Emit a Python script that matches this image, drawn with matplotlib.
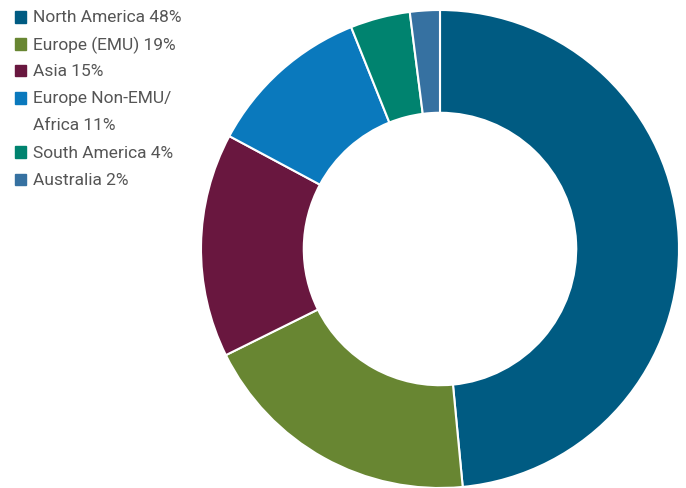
import matplotlib.pyplot as plt
from matplotlib.patches import Rectangle

plt.rcParams['font.family'] = ['Roboto', 'DejaVu Sans']

regions = ['North America', 'Europe (EMU)', 'Asia', 'Europe Non-EMU/\nAfrica',
           'South America', 'Australia']
shares = [48, 19, 15, 11, 4, 2]
colors = ['#005b82', '#688632', '#69173f', '#0a79bd', '#00836f', '#3671a1']

W, H = 686, 488
fig = plt.figure(figsize=(W / 100, H / 100), dpi=100)

# donut: centre (440, 249) px, radius 239 px
cx, cy, r = 440, 249, 239
ax = fig.add_axes([(cx - r) / W, (H - cy - r) / H, 2 * r / W, 2 * r / H])
ax.pie(shares, colors=colors, startangle=90, counterclock=False,
       wedgeprops=dict(width=0.43, edgecolor='white', linewidth=1.5))
ax.set_xlim(-1, 1)
ax.set_ylim(-1, 1)
ax.set_aspect('equal')
ax.axis('off')

# legend on the left, one text line every 27 px
y = 17
for name, val, c in zip(regions, shares, colors):
    fig.patches.append(Rectangle((15 / W, 1 - (y + 5.5) / H), 11 / W, 11 / H,
                                 transform=fig.transFigure, color=c))
    for line in f'{name} {val}%'.split('\n'):
        fig.text(33 / W, 1 - (y + 1) / H, line, fontsize=12.5, color='#555555',
                 va='center', ha='left')
        y += 27

fig.savefig('out.png', dpi=100)
